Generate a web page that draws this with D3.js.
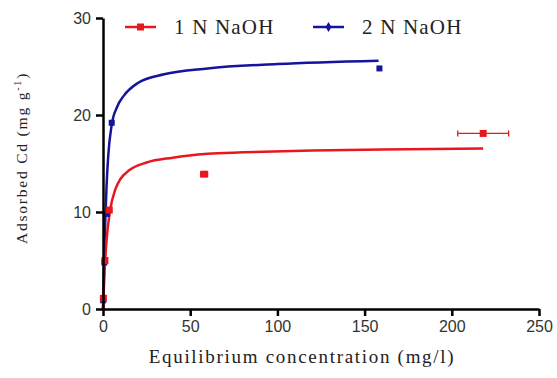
<!DOCTYPE html>
<html>
<head>
<meta charset="utf-8">
<script src="https://cdn.jsdelivr.net/npm/d3@7"></script>
<style>
  body { margin: 0; background: #fff; }
  svg { display: block; }
</style>
</head>
<body>
<script>
// axis ticks
const xTicks = [0, 50, 100, 150, 200, 250];
const yTicks = [0, 10, 20, 30];

// 1 N NaOH measured points (x = equilibrium conc., y = adsorbed, xErr = horizontal error)
const naoh1X = [0.2, 1.1, 3.6, 58, 218];
const naoh1Y = [1.1, 5.0, 10.2, 13.9, 18.1];
const naoh1Err = [0.3, 0.4, 0.8, 2.0, 14.6];

// 2 N NaOH measured points
const naoh2X = [0.1, 0.8, 2.2, 5.0, 158.5];
const naoh2Y = [0.9, 4.8, 9.8, 19.2, 24.8];

// fitted curves
const fit1X = [0, 1, 2, 4, 7, 10, 15, 25, 40, 60, 80, 120, 160, 218];
const fit1Y = [0, 4.2, 7.0, 10.1, 12.3, 13.4, 14.3, 15.1, 15.6, 16.0, 16.15, 16.35, 16.45, 16.55];
const fit2X = [0, 1, 2, 3, 5, 8, 12, 20, 35, 60, 100, 158];
const fit2Y = [0, 7.5, 12.5, 15.8, 19.0, 20.8, 22.0, 23.3, 24.2, 24.8, 25.25, 25.6];

const red = '#e8171f';
const blue = '#14149c';

const svg = d3.select('body').append('svg')
    .attr('width', 557)
    .attr('height', 378);

svg.append('rect').attr('width', 557).attr('height', 378).attr('fill', '#fff');

const xScale = d3.scaleLinear().domain([0, 250]).range([103, 539]);
const yScale = d3.scaleLinear().domain([0, 30]).range([309, 18]);

const line = d3.line()
    .x((d) => xScale(d[0]))
    .y((d) => yScale(d[1]))
    .curve(d3.curveMonotoneX);

// curves
svg.append('path')
    .datum(d3.zip(fit2X, fit2Y))
    .attr('d', line)
    .attr('fill', 'none')
    .attr('stroke', blue)
    .attr('stroke-width', 2.5);

svg.append('path')
    .datum(d3.zip(fit1X, fit1Y))
    .attr('d', line)
    .attr('fill', 'none')
    .attr('stroke', red)
    .attr('stroke-width', 2.5);

// blue points
svg.selectAll('.p2')
    .data(d3.zip(naoh2X, naoh2Y))
    .join('path')
    .attr('class', 'p2')
    .attr('transform', (d) => 'translate(' + xScale(d[0]) + ',' + yScale(d[1]) + ')')
    .attr('d', d3.symbol(d3.symbolSquare, 36))
    .attr('fill', blue);

// red error bars
const err = d3.zip(naoh1X, naoh1Y, naoh1Err);
svg.selectAll('.eb')
    .data(err)
    .join('path')
    .attr('class', 'eb')
    .attr('d', (d) => {
        const x0 = xScale(d[0] - d[2]), x1 = xScale(d[0] + d[2]), yy = yScale(d[1]);
        return 'M' + x0 + ',' + yy + 'H' + x1 +
            'M' + x0 + ',' + (yy - 3) + 'V' + (yy + 3) +
            'M' + x1 + ',' + (yy - 3) + 'V' + (yy + 3);
    })
    .attr('stroke', red)
    .attr('stroke-width', 1.3)
    .attr('fill', 'none');

// red points
svg.selectAll('.p1')
    .data(d3.zip(naoh1X, naoh1Y))
    .join('path')
    .attr('class', 'p1')
    .attr('transform', (d) => 'translate(' + xScale(d[0]) + ',' + yScale(d[1]) + ')')
    .attr('d', d3.symbol(d3.symbolSquare, 49))
    .attr('fill', red);

// axes
const xAxisG = svg.append('g')
    .attr('transform', 'translate(0,' + yScale(0) + ')')
    .call(d3.axisBottom(xScale).tickValues(xTicks).tickSize(7).tickSizeOuter(0).tickPadding(5));

const yAxisG = svg.append('g')
    .attr('transform', 'translate(' + xScale(0) + ',0)')
    .call(d3.axisLeft(yScale).tickValues(yTicks).tickSize(7).tickSizeOuter(0).tickPadding(5));

[xAxisG, yAxisG].forEach((g) => {
    g.select('.domain').attr('stroke', '#000').attr('stroke-width', 2.5);
    g.selectAll('.tick line').attr('stroke', '#000').attr('stroke-width', 2.5);
    g.selectAll('.tick text')
        .attr('fill', '#333')
        .style('font-family', '"Liberation Sans", Arial, sans-serif')
        .style('font-size', '16px');
});

// axis titles
svg.append('text')
    .attr('x', 302)
    .attr('y', 363)
    .attr('text-anchor', 'middle')
    .style('font-family', '"Liberation Serif", "Times New Roman", serif')
    .style('font-size', '19px')
    .style('letter-spacing', '1.7px')
    .attr('fill', '#222')
    .text('Equilibrium concentration (mg/l)');

const yTitle = svg.append('text')
    .attr('transform', 'translate(27,158) rotate(-90)')
    .attr('text-anchor', 'middle')
    .style('font-family', '"Liberation Serif", "Times New Roman", serif')
    .style('font-size', '15.5px')
    .style('letter-spacing', '1.8px')
    .attr('fill', '#222');
yTitle.append('tspan').text('Adsorbed Cd  (mg g');
yTitle.append('tspan').attr('dy', -6).style('font-size', '10px').text('-1');
yTitle.append('tspan').attr('dy', 6).text(')');

// legend
const legendNames = ['1 N NaOH', '2 N NaOH'];
const legendColors = [red, blue];
const legendX = [125, 313];

const legend = svg.selectAll('.legend')
    .data(legendNames)
    .join('g')
    .attr('class', 'legend')
    .attr('transform', (d, i) => 'translate(' + legendX[i] + ',27)');

legend.append('line')
    .attr('x1', 0).attr('x2', 31)
    .attr('stroke', (d, i) => legendColors[i])
    .attr('stroke-width', 2.5);

legend.append('path')
    .attr('transform', 'translate(15.5,0)')
    .attr('d', (d, i) => d3.symbol(i === 0 ? d3.symbolSquare : d3.symbolDiamond, i === 0 ? 49 : 30)())
    .attr('fill', (d, i) => legendColors[i]);

legend.append('text')
    .attr('x', 49)
    .attr('y', 7)
    .style('font-family', '"Liberation Serif", "Times New Roman", serif')
    .style('font-size', '21px')
    .style('letter-spacing', '1.2px')
    .attr('fill', '#222')
    .text((d) => d);
</script>
</body>
</html>
